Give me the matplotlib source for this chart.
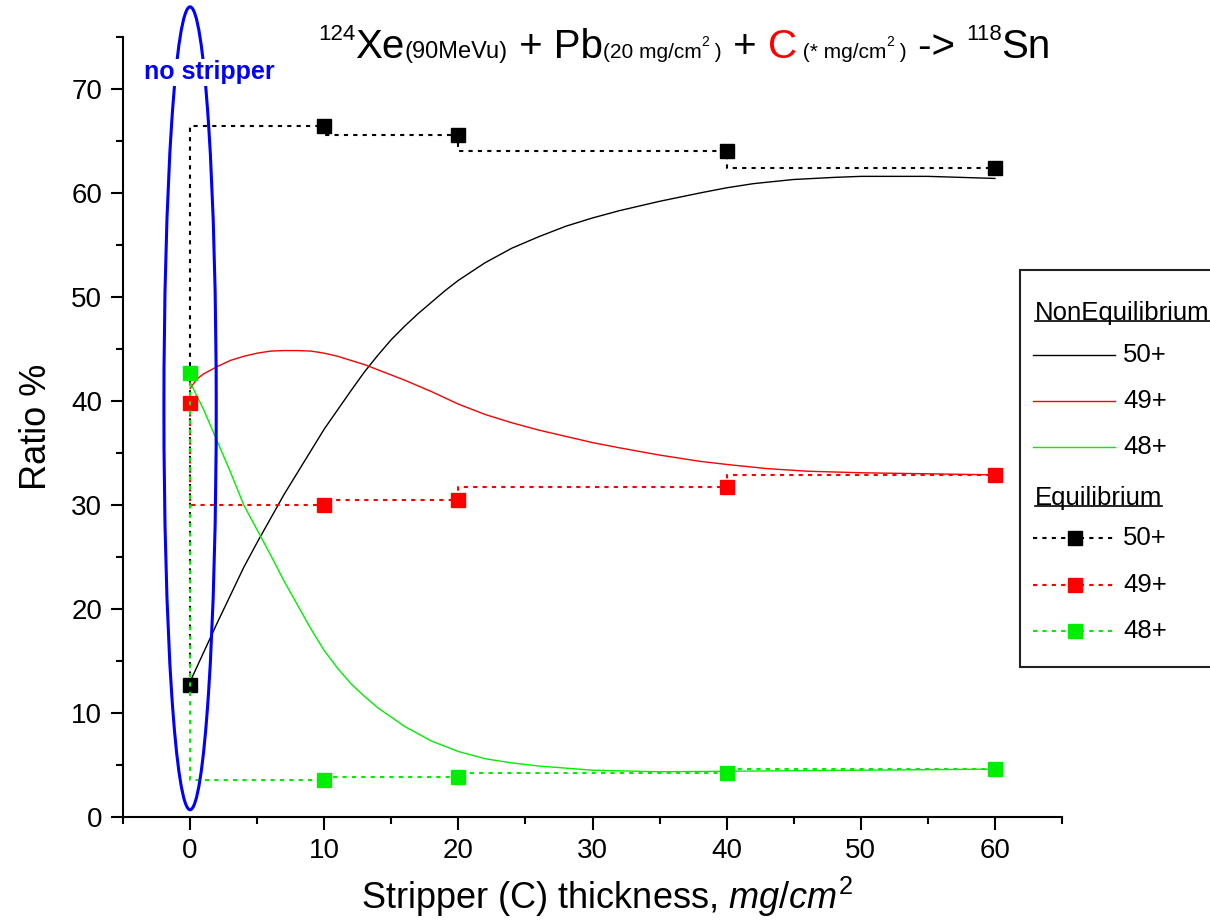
import numpy as np
import matplotlib
matplotlib.use('Agg')
import matplotlib.pyplot as plt
from matplotlib.patches import Ellipse, Rectangle
from matplotlib.lines import Line2D
from matplotlib.ticker import MultipleLocator

plt.rcParams['font.family'] = ['Liberation Sans', 'DejaVu Sans']
plt.rcParams['mathtext.fontset'] = 'custom'
plt.rcParams['mathtext.rm'] = 'Liberation Sans'
plt.rcParams['mathtext.it'] = 'Liberation Sans:italic'
plt.rcParams['mathtext.bf'] = 'Liberation Sans:bold'

# Equilibrium (measured) charge state ratios
x_eq = [0, 10, 20, 40, 60]
eq_50 = [12.7, 66.4, 65.6, 64.0, 62.4]
eq_49 = [39.8, 30.0, 30.5, 31.7, 32.9]
eq_48 = [42.7, 3.56, 3.8, 4.2, 4.6]

# NonEquilibrium curves
x_50 = [0, 1, 2, 3, 4, 5, 6, 7, 8, 9, 10, 12, 13, 14, 15, 16, 17, 18, 19, 20,
        22, 24, 26, 28, 30, 32, 35, 38, 40, 42, 45, 48, 50, 55, 60]
ne_50 = [13.0, 15.8, 18.6, 21.3, 24.0, 26.4, 28.7, 31.0, 33.1, 35.2, 37.3,
         41.0, 42.8, 44.4, 45.9, 47.2, 48.4, 49.5, 50.6, 51.6, 53.3, 54.7,
         55.8, 56.8, 57.6, 58.3, 59.2, 60.0, 60.5, 60.9, 61.3, 61.5, 61.6,
         61.6, 61.4]

x_49 = [0, 0.5, 1, 2, 3, 4, 5, 6, 7, 8, 9, 10, 11, 12, 13, 14, 16, 18, 20,
        22, 24, 26, 28, 30, 32, 35, 38, 40, 43, 46, 50, 55, 60]
ne_49 = [41.2, 42.1, 42.6, 43.3, 43.9, 44.3, 44.6, 44.8, 44.85, 44.85, 44.8,
         44.6, 44.3, 43.9, 43.5, 43.0, 42.0, 40.9, 39.7, 38.7, 37.9, 37.2,
         36.6, 36.0, 35.5, 34.8, 34.2, 33.9, 33.5, 33.25, 33.1, 33.0, 32.9]

x_48 = [0, 1, 2, 3, 4, 5, 6, 7, 8, 9, 10, 11, 12, 13, 14, 16, 18, 20, 22,
        24, 26, 28, 30, 35, 40, 45, 50, 55, 60]
ne_48 = [41.8, 39.2, 36.2, 33.2, 30.0, 27.6, 25.2, 22.7, 20.4, 18.1, 16.0,
         14.3, 12.8, 11.6, 10.5, 8.7, 7.3, 6.3, 5.6, 5.2, 4.9, 4.7, 4.5,
         4.35, 4.4, 4.45, 4.5, 4.55, 4.6]

labels = ['50+', '49+', '48+']
colors = ['black', '#ff0000', '#00ee00']

W, H = 1210, 922


def fx(px):
    return px / W


def fy(py):
    return 1 - py / H


fig = plt.figure(figsize=(W / 100, H / 100), dpi=100)
ax = fig.add_axes([fx(123), fy(817), (1062 - 123) / W, (817 - 37) / H])
ax.set_xlim(-5, 65)
ax.set_ylim(0, 75)

dots = (0, (2, 2.5))
for xs, ys, c in zip([x_50, x_49, x_48], [ne_50, ne_49, ne_48], colors):
    ax.plot(xs, ys, color=c, lw=1.0, zorder=2)
for ys, c in zip([eq_50, eq_49, eq_48], colors):
    ax.plot(x_eq, ys, color=c, ls=dots, lw=1.5, drawstyle='steps-pre',
            marker='s', ms=10.5, zorder=3)

ax.add_patch(Ellipse((0, 39.3), 3.9, 77.2, fill=False, ec='#0000ff', lw=2.2,
                     clip_on=False, zorder=4))
ax.text(1.42, 71.6, 'no stripper', color='#0000ff', fontsize=18,
        fontweight='bold', ha='center', va='center', zorder=6,
        bbox=dict(fc='white', ec='none', pad=1))

for s in ['top', 'right']:
    ax.spines[s].set_visible(False)
for s in ['left', 'bottom']:
    ax.spines[s].set_linewidth(1.5)
ax.xaxis.set_major_locator(MultipleLocator(10))
ax.xaxis.set_minor_locator(MultipleLocator(5))
ax.yaxis.set_major_locator(MultipleLocator(10))
ax.yaxis.set_minor_locator(MultipleLocator(5))
ax.tick_params(which='major', length=9, width=1.5, labelsize=20, pad=6)
ax.tick_params(which='minor', length=5, width=1.5)

ax.set_xlabel('Stripper (C) thickness, $mg/cm^2$', fontsize=26, labelpad=8,
              x=0.516)
ax.set_ylabel('Ratio %', fontsize=26, labelpad=12)

# title built from pieces: (text, size, color, rise in points)
title_parts = [('124', 16, 'black', 13), ('Xe', 29, 'black', 0),
               ('(90MeVu)', 17, 'black', 0), (' + Pb', 29, 'black', 0),
               ('(20 mg/cm', 15, 'black', 0), ('2', 10, 'black', 9),
               (' )', 15, 'black', 0), (' + ', 29, 'black', 0),
               ('C', 29, '#ff0000', 0), (' (* mg/cm', 15, 'black', 0),
               ('2', 10, 'black', 9), (' )', 15, 'black', 0),
               (' -> ', 29, 'black', 0), ('118', 16, 'black', 13),
               ('Sn', 29, 'black', 0)]
prev = None
for txt, size, c, rise in title_parts:
    if prev is None:
        prev = ax.annotate(txt, xy=(fx(318), fy(58)), xycoords='figure fraction',
                           xytext=(0, rise), textcoords='offset points',
                           fontsize=size, color=c, va='baseline', ha='left',
                           annotation_clip=False)
    else:
        prev = ax.annotate(txt, xy=(1, fy(58)), xycoords=(prev, 'figure fraction'),
                           xytext=(0, rise), textcoords='offset points',
                           fontsize=size, color=c, va='baseline', ha='left',
                           annotation_clip=False)

# legend drawn by hand to get the underlined group headers
fig.add_artist(Rectangle((fx(1020), fy(667)), (1215 - 1020) / W, (667 - 270) / H,
                         transform=fig.transFigure, fc='white', ec='#222222',
                         lw=1.5, zorder=5))
headers = []
headers.append(fig.text(fx(1035), fy(320), 'NonEquilibrium', fontsize=18.5,
                        va='baseline', zorder=6))
for lab, c, yy in zip(labels, colors, [355, 401, 447]):
    fig.add_artist(Line2D([fx(1033), fx(1115)], [fy(yy)] * 2, color=c, lw=1.0,
                          transform=fig.transFigure, zorder=6))
    fig.text(fx(1123), fy(yy), lab, fontsize=18.5, va='center', zorder=6)
headers.append(fig.text(fx(1035), fy(505), 'Equilibrium', fontsize=18.5,
                        va='baseline', zorder=6))
for lab, c, yy in zip(labels, colors, [538, 585, 631]):
    fig.add_artist(Line2D([fx(1033), fx(1075), fx(1115)], [fy(yy)] * 3, color=c,
                          lw=1.5, ls=dots, marker='s', ms=10.5, markevery=[1],
                          transform=fig.transFigure, zorder=6))
    fig.text(fx(1123), fy(yy), lab, fontsize=18.5, va='center', zorder=6)

fig.canvas.draw()
for t in headers:
    bb = t.get_window_extent()
    yb = bb.y0 + 0.17 * bb.height
    fig.add_artist(Line2D([bb.x0 / W, bb.x1 / W], [yb / H] * 2, color='black',
                          lw=1.2, transform=fig.transFigure, zorder=6))

fig.savefig('out.png', dpi=100)
